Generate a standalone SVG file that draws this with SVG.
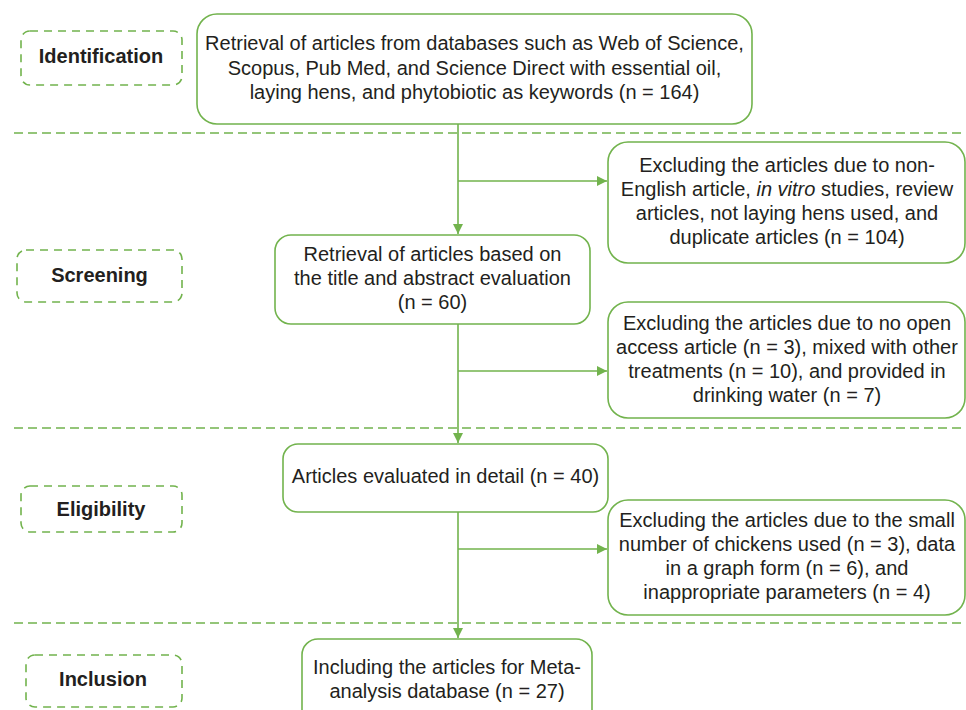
<svg xmlns="http://www.w3.org/2000/svg" width="966" height="710" viewBox="0 0 966 710">
<style>
  .box { fill: #ffffff; stroke: #72b34d; stroke-width: 1.6; }
  .lab { fill: #ffffff; stroke: #72b34d; stroke-width: 1.6; stroke-dasharray: 8 6; }
  .sep { stroke: #72b34d; stroke-width: 1.4; stroke-dasharray: 9 5; fill: none; }
  .con { stroke: #72b34d; stroke-width: 1.6; fill: none; }
  .t { font-family: "Liberation Sans", Arial, sans-serif; font-size: 20px; fill: #231f20; text-anchor: middle; }
  .b { font-family: "Liberation Sans", Arial, sans-serif; font-size: 20px; font-weight: bold; fill: #231f20; text-anchor: middle; }
</style>
<defs>
  <marker id="ah" markerWidth="10" markerHeight="10" refX="10" refY="5" orient="auto" markerUnits="userSpaceOnUse">
    <path d="M0,0 L10,5 L0,10 Z" fill="#72b34d"/>
  </marker>
</defs>
<rect width="966" height="710" fill="#ffffff"/>

<g id="separators">
  <line class="sep" x1="14" y1="133" x2="966" y2="133"/>
  <line class="sep" x1="14" y1="428" x2="966" y2="428"/>
  <line class="sep" x1="14" y1="623" x2="966" y2="623"/>
</g>

<g id="connectors">
  <line class="con" x1="458" y1="124" x2="458" y2="234" marker-end="url(#ah)"/>
  <line class="con" x1="458" y1="181" x2="607" y2="181" marker-end="url(#ah)"/>
  <line class="con" x1="458" y1="324" x2="458" y2="443" marker-end="url(#ah)"/>
  <line class="con" x1="458" y1="371" x2="607" y2="371" marker-end="url(#ah)"/>
  <line class="con" x1="458" y1="512" x2="458" y2="638" marker-end="url(#ah)"/>
  <line class="con" x1="458" y1="549" x2="607" y2="549" marker-end="url(#ah)"/>
</g>

<g id="label-identification">
  <rect class="lab" x="21" y="31" width="161" height="54" rx="9"/>
  <text class="b" x="101" y="63">Identification</text>
</g>
<g id="label-screening">
  <rect class="lab" x="17" y="250" width="165" height="52" rx="9"/>
  <text class="b" x="99.5" y="282">Screening</text>
</g>
<g id="label-eligibility">
  <rect class="lab" x="21" y="486" width="161" height="46" rx="9"/>
  <text class="b" x="101" y="516">Eligibility</text>
</g>
<g id="label-inclusion">
  <rect class="lab" x="26" y="655" width="156" height="52" rx="9"/>
  <text class="b" x="103" y="686">Inclusion</text>
</g>

<g id="node-retrieval">
  <rect class="box" x="197" y="14" width="555" height="110" rx="20"/>
  <text class="t" x="474.5" y="50">Retrieval of articles from databases such as Web of Science,</text>
  <text class="t" x="474.5" y="74.5">Scopus, Pub Med, and Science Direct with essential oil,</text>
  <text class="t" x="474.5" y="99">laying hens, and phytobiotic as keywords (n = 164)</text>
</g>

<g id="node-exclude1">
  <rect class="box" x="608" y="142" width="357" height="121" rx="20"/>
  <text class="t" x="787" y="172">Excluding the articles due to non-</text>
  <text class="t" x="787" y="196">English article, <tspan font-style="italic">in vitro</tspan> studies, review</text>
  <text class="t" x="787" y="220">articles, not laying hens used, and</text>
  <text class="t" x="787" y="244">duplicate articles (n = 104)</text>
</g>

<g id="node-title-abstract">
  <rect class="box" x="275" y="235" width="315" height="89" rx="16"/>
  <text class="t" x="432.5" y="261">Retrieval of articles based on</text>
  <text class="t" x="432.5" y="285">the title and abstract evaluation</text>
  <text class="t" x="432.5" y="309">(n = 60)</text>
</g>

<g id="node-exclude2">
  <rect class="box" x="608" y="302" width="357" height="116" rx="20"/>
  <text class="t" x="787" y="330">Excluding the articles due to no open</text>
  <text class="t" x="787" y="354">access article (n = 3), mixed with other</text>
  <text class="t" x="787" y="378">treatments (n = 10), and provided in</text>
  <text class="t" x="787" y="402">drinking water (n = 7)</text>
</g>

<g id="node-detail">
  <rect class="box" x="283" y="444" width="325" height="68" rx="15"/>
  <text class="t" x="445.5" y="483">Articles evaluated in detail (n = 40)</text>
</g>

<g id="node-exclude3">
  <rect class="box" x="608" y="500" width="357" height="115" rx="20"/>
  <text class="t" x="787" y="527">Excluding the articles due to the small</text>
  <text class="t" x="787" y="551">number of chickens used (n = 3), data</text>
  <text class="t" x="787" y="575">in a graph form (n = 6), and</text>
  <text class="t" x="787" y="599">inappropriate parameters (n = 4)</text>
</g>

<g id="node-inclusion">
  <rect class="box" x="302" y="639" width="290" height="100" rx="16"/>
  <text class="t" x="447" y="674">Including the articles for Meta-</text>
  <text class="t" x="447" y="698">analysis database (n = 27)</text>
</g>
</svg>
